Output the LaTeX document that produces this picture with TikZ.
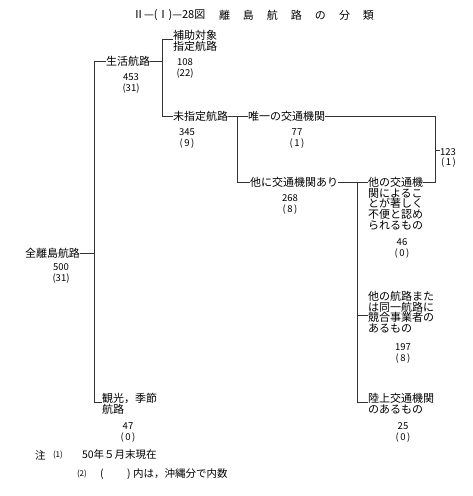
\documentclass[tikz,border=0pt]{standalone}
\usepackage{fontspec}
\setmainfont{Noto Sans CJK JP}
\newcommand{\tsp}{\hspace{13pt}}
\begin{document}
\begin{tikzpicture}[x=1pt,y=-1pt,
  every node/.style={inner sep=0pt,outer sep=0pt},
  jp/.style={font=\fontsize{11}{10.8}\selectfont},
  lab/.style={jp,anchor=west},
  mlab/.style={jp,anchor=north west,align=left},
  num/.style={font=\fontsize{9.5}{11}\selectfont,align=center,anchor=north},
  note/.style={font=\fontsize{10.5}{12}\selectfont,anchor=west},
  ln/.style={line width=0.6pt,draw=black!80}]
\useasboundingbox[fill=white] (0,0) rectangle (473,496);

% title
\node[lab] (title) at (133,15) {Ⅱ—(Ⅰ)—28図};
\node[lab] (title2) at (219,15) {離\tsp 島\tsp 航\tsp 路\tsp の\tsp 分\tsp 類};

% labels
\node[lab] (root) at (25,253) {全離島航路};
\node[lab] (seik) at (106,61) {生活航路};
\node[mlab] (hojo) at (173,30) {補助対象\\指定航路};
\node[lab] (mishi) at (173,116) {未指定航路};
\node[lab] (yuii) at (248,116) {唯一の交通機関};
\node[lab] (hoka) at (250,182) {他に交通機関あり};
\node[mlab] (tahi) at (368,177) {他の交通機\\関によるこ\\とが著しく\\不便と認め\\られるもの};
\node[mlab] (kyogo) at (368,291) {他の航路また\\は同一航路に\\競合事業者の\\あるもの};
\node[mlab] (riku) at (368,393) {陸上交通機関\\のあるもの};
\node[mlab] (kanko) at (102,393) {観光，季節\\航路};

% numbers
\node[num] (n500) at (61,263.5) {500\\(31)};
\node[num] (n453) at (131,73.5) {453\\(31)};
\node[num] (n108) at (185,58.5) {108\\(22)};
\node[num] (n345) at (187,128.5) {345\\(\,9\,)};
\node[num] (n77) at (297,128.5) {77\\(\,1\,)};
\node[num] (n268) at (290,194.5) {268\\(\,8\,)};
\node[num] (n46) at (402,238.5) {46\\(\,0\,)};
\node[num] (n197) at (403,343.5) {197\\(\,8\,)};
\node[num] (n25) at (403,422.5) {25\\(\,0\,)};
\node[num] (n47) at (128,422.5) {47\\(\,0\,)};
\node[num,anchor=north west] (n123) at (440,148.5) {123\\[-0.5pt]\hspace{1pt}(\,1\,)};

% notes
\node[note] (chu) at (35,455) {注};
\node[note,font=\fontsize{8}{10}\selectfont] (c1) at (53,455) {(1)};
\node[note] (c1t) at (82,455) {50年５月末現在};
\node[note,font=\fontsize{8}{10}\selectfont] (c2) at (77,474) {(2)};
\node[note] (c2a) at (100,474) {(};
\node[note] (c2b) at (127,474) {)};
\node[note] (c2t) at (133,474) {内は，沖縄分で内数};

% junction coordinates
\coordinate (tA) at (94,61);
\coordinate (tB) at (94,402);
\coordinate (tR) at (94,253);
\coordinate (sA) at (162,39);
\coordinate (sB) at (162,116);
\coordinate (sM) at (162,61);
\coordinate (mA) at (237,116);
\coordinate (mB) at (237,182);
\coordinate (rA) at (435,116);
\coordinate (rB) at (435,182);
\coordinate (rT) at (435,150);
\coordinate (vA) at (357,182);
\coordinate (vB) at (357,402);
\coordinate (vK) at (357,315);

% connectors
\draw[ln] (root.east) -- (tR);
\draw[ln] (tA) -- (tB);
\draw[ln] (tA) -- (seik.west);
\draw[ln] (tB) -- (kanko.west |- tB);
\draw[ln] (seik.east) -- (sM);
\draw[ln] (sA) -- (sB);
\draw[ln] (sA) -- (hojo.west |- sA);
\draw[ln] (sB) -- (mishi.west);
\draw[ln] (mishi.east) -- (yuii.west);
\draw[ln] (mA) -- (mB) -- (hoka.west);
\draw[ln] (yuii.east) -- (rA) -- (rB) -- (tahi.east |- rB);
\draw[ln] (rT) -- (n123.west |- rT);
\draw[ln] (hoka.east) -- (tahi.west |- hoka.east);
\draw[ln] (vA) -- (vB) -- (riku.west |- vB);
\draw[ln] (vK) -- (kyogo.west |- vK);
\end{tikzpicture}
\end{document}
